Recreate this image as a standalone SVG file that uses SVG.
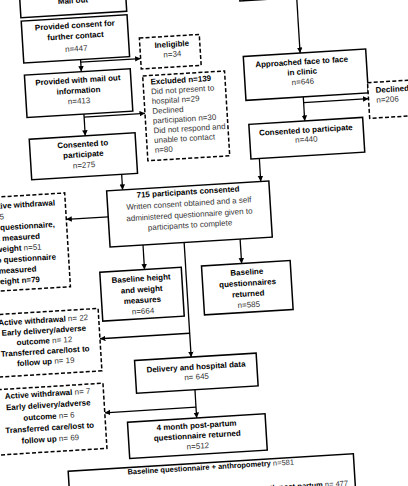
<svg xmlns="http://www.w3.org/2000/svg" width="408" height="486" viewBox="0 0 408 486">
<style>
.box{fill:#fff;stroke:#000;stroke-width:1.5}
.dbox{fill:#fff;stroke:#000;stroke-width:1.5;stroke-dasharray:4 2.2}
.con{fill:none;stroke:#000;stroke-width:1.3}
text{font-family:"Liberation Sans",Arial,sans-serif;font-size:8px;fill:#000}
.b{font-weight:bold}
.r{font-weight:normal;fill:#333}
.c{text-anchor:middle}
.e{text-anchor:end}
</style>
<defs>
<marker id="ah" markerUnits="userSpaceOnUse" markerWidth="6" markerHeight="6" refX="5.5" refY="2.75" orient="auto">
<path d="M0,0 L5.5,2.75 L0,5.5 z" fill="#000"/>
</marker>
</defs>
<rect width="408" height="486" fill="#fff"/>
<g transform="rotate(-3.5 204 243)">
<g id="connectors">
<path class="con" d="M92,52.4 V64.4" marker-end="url(#ah)"/>
<path class="con" d="M92,55 H152" marker-end="url(#ah)"/>
<path class="con" d="M92,107 V128.7" marker-end="url(#ah)"/>
<path class="con" d="M92,110 H153" marker-end="url(#ah)"/>
<path class="con" d="M126,169.4 V185" marker-end="url(#ah)"/>
<path class="con" d="M311.5,3.6 V59.2" marker-end="url(#ah)"/>
<path class="con" d="M312,103.2 V127.3" marker-end="url(#ah)"/>
<path class="con" d="M312,109 H377" marker-end="url(#ah)"/>
<path class="con" d="M264.4,162.1 V185" marker-end="url(#ah)"/>
<path class="con" d="M110,211 H68" marker-end="url(#ah)"/>
<path class="con" d="M143,241.3 V265.8" marker-end="url(#ah)"/>
<path class="con" d="M240.3,241.3 V265.8" marker-end="url(#ah)"/>
<path class="con" d="M184.2,241.3 V356.1" marker-end="url(#ah)"/>
<path class="con" d="M184.2,332.2 H94.3" marker-end="url(#ah)"/>
<path class="con" d="M186,388.9 V417.2" marker-end="url(#ah)"/>
<path class="con" d="M186,406.4 H94.6" marker-end="url(#ah)"/>
</g>
<g id="mailout">
<rect class="box" x="35" y="-30" width="106" height="37"/>
<text class="b c" x="88" y="-4.4">Mail out</text>
</g>
<g id="topright">
<rect class="box" x="254.6" y="-40" width="122.6" height="43.6"/>
</g>
<g id="consent">
<rect class="box" x="35.1" y="10.4" width="106" height="42"/>
<text class="b c" x="88.4" y="20.5">Provided consent for</text>
<text class="b c" x="88.4" y="31.2">further contact</text>
<text class="r c" x="88.4" y="43.9">n=447</text>
</g>
<g id="ineligible">
<rect class="dbox" x="152" y="34.5" width="60" height="31"/>
<text class="b c" x="184" y="45.3">Ineligible</text>
<text class="r c" x="184" y="55.3">n=34</text>
</g>
<g id="mailinfo">
<rect class="box" x="35" y="64.5" width="106" height="42.5"/>
<text class="b c" x="88" y="75.4">Provided with mail out</text>
<text class="b c" x="88" y="85.8">information</text>
<text class="r c" x="88" y="96.2">n=413</text>
</g>
<g id="excluded">
<rect class="dbox" x="153" y="72.5" width="82" height="85"/>
<text x="160.5" y="81.6" class="b">Excluded n=139</text>
<text x="160.5" y="91.4" class="r">Did not present to</text>
<text x="160.5" y="101.1" class="r">hospital n=29</text>
<text x="160.5" y="110.9" class="r">Declined</text>
<text x="160.5" y="120.7" class="r">participation n=30</text>
<text x="160.5" y="130.5" class="r">Did not respond and</text>
<text x="160.5" y="140.2" class="r">unable to contact</text>
<text x="160.5" y="150" class="r">n=80</text>
</g>
<g id="approached">
<rect class="box" x="254.6" y="59.2" width="122.6" height="44"/>
<text class="b c" x="312.5" y="70.8">Approached face to face</text>
<text class="b c" x="312.5" y="80.8">in clinic</text>
<text class="r c" x="312.5" y="90.8">n=646</text>
</g>
<g id="declined">
<rect class="dbox" x="377" y="93" width="60" height="35.7"/>
<text class="b" x="384.7" y="103.6">Declined</text>
<text class="r" x="384.7" y="113.6">n=206</text>
</g>
<g id="consented-right">
<rect class="box" x="256" y="127.3" width="114" height="34.8"/>
<text class="b c" x="312.5" y="139.2">Consented to participate</text>
<text class="r c" x="312.5" y="148.5">n=440</text>
</g>
<g id="consented-left">
<rect class="box" x="35.9" y="128.7" width="106" height="40.7"/>
<text class="b c" x="89" y="139.6">Consented to</text>
<text class="b c" x="89" y="149.9">participate</text>
<text class="r c" x="89" y="160.6">n=275</text>
</g>
<g id="consented715">
<rect class="box" x="110" y="185" width="162.5" height="56.3"/>
<text class="b c" x="191.2" y="193.7">715 participants consented</text>
<text class="r c" x="191.2" y="205.2">Written consent obtained and a self</text>
<text class="r c" x="191.2" y="216.5">administered questionnaire given to</text>
<text class="r c" x="191.2" y="227">participants to complete</text>
</g>
<g id="withdrawal-baseline">
<rect class="dbox" x="-45" y="184.5" width="113" height="94"/>
<text class="b e" x="57.7" y="196.3">Active withdrawal</text>
<text class="r e" x="5.9" y="207.1">n= 5</text>
<text class="b e" x="56.2" y="217.9">No questionnaire,</text>
<text class="b e" x="40.6" y="228.7">not measured</text>
<text class="e" x="41.7" y="239.5"><tspan class="b">weight </tspan><tspan class="r">n=51</tspan></text>
<text class="b e" x="55.4" y="250.3">No questionnaire</text>
<text class="b e" x="35.2" y="261.1">not measured</text>
<text class="b e" x="38" y="271.8">weight n=79</text>
</g>
<g id="baseline-hw">
<rect class="box" x="98.2" y="265.8" width="81.6" height="49"/>
<text class="b c" x="139" y="277.3">Baseline height</text>
<text class="b c" x="139" y="288.3">and weight</text>
<text class="b c" x="139" y="299">measures</text>
<text class="r c" x="139" y="310">n=664</text>
</g>
<g id="baseline-q">
<rect class="box" x="200.1" y="265.8" width="88.8" height="49"/>
<text class="b c" x="245" y="277.3">Baseline</text>
<text class="b c" x="245" y="288.3">questionnaires</text>
<text class="b c" x="245" y="299">returned</text>
<text class="r c" x="245" y="310">n=585</text>
</g>
<g id="withdrawal-delivery">
<rect class="dbox" x="-17" y="301.8" width="111.3" height="62.5"/>
<text class="c" x="38.8" y="312.9"><tspan class="b">Active withdrawal</tspan><tspan class="r"> n= 22</tspan></text>
<text class="b c" x="38.8" y="323.3">Early delivery/adverse</text>
<text class="c" x="38.8" y="333.7"><tspan class="b">outcome</tspan><tspan class="r"> n= 12</tspan></text>
<text class="b c" x="38.8" y="344.1">Transferred care/lost to</text>
<text class="c" x="38.8" y="354.5"><tspan class="b">follow up</tspan><tspan class="r"> n= 19</tspan></text>
</g>
<g id="delivery">
<rect class="box" x="127.5" y="356.1" width="121.8" height="32.8"/>
<text class="b c" x="188.4" y="368.8">Delivery and hospital data</text>
<text class="r c" x="188.4" y="378.8">n= 645</text>
</g>
<g id="withdrawal-postpartum">
<rect class="dbox" x="-17" y="376.8" width="111.6" height="65.3"/>
<text class="c" x="38.7" y="386.5"><tspan class="b">Active withdrawal</tspan><tspan class="r"> n= 7</tspan></text>
<text class="b c" x="38.7" y="397.9">Early delivery/adverse</text>
<text class="c" x="38.7" y="409.3"><tspan class="b">outcome</tspan><tspan class="r"> n= 6</tspan></text>
<text class="b c" x="38.7" y="420.7">Transferred care/lost to</text>
<text class="c" x="38.7" y="432.1"><tspan class="b">follow up</tspan><tspan class="r"> n= 69</tspan></text>
</g>
<g id="postpartum">
<rect class="box" x="116.7" y="417.2" width="137.8" height="36.4"/>
<text class="b c" x="185.5" y="427.3">4 month post-partum</text>
<text class="b c" x="185.5" y="437.5">questionnaire returned</text>
<text class="r c" x="185.5" y="448">n=512</text>
</g>
<g id="summary">
<rect class="box" x="54.5" y="462.5" width="285.7" height="50"/>
<text class="c" x="197.1" y="469.5" style="font-size:7.5px"><tspan class="b">Baseline questionnaire + anthropometry</tspan><tspan class="r"> n=581</tspan></text>
<text class="e" x="333.1" y="494" style="font-size:7.5px"><tspan class="b">Baseline questionnaire + anthropometry + 4 month post-partum</tspan><tspan class="r"> n= 477</tspan></text>
</g>
</g>
</svg>
